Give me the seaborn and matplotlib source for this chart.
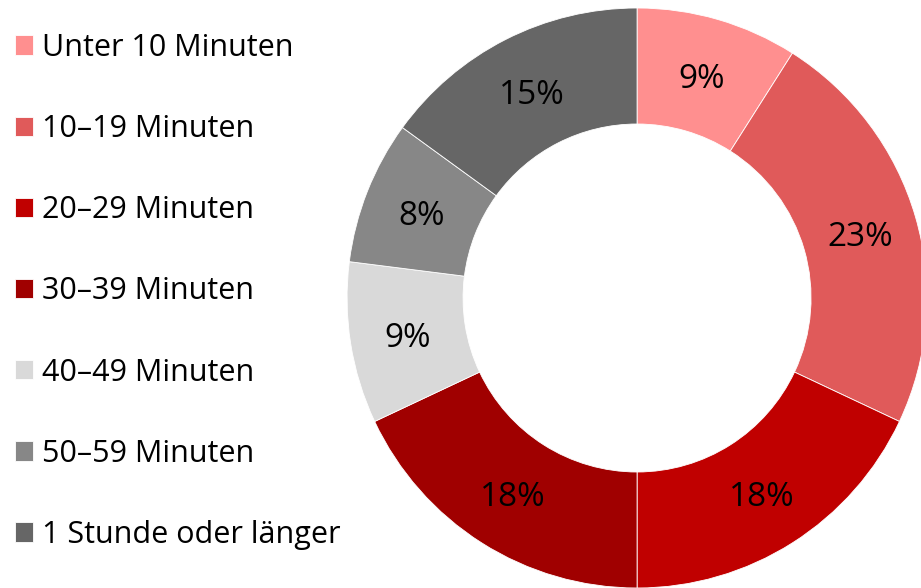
import matplotlib
matplotlib.use("Agg")
import matplotlib.pyplot as plt
import seaborn as sns

# Daten
kategorien = ["Unter 10 Minuten", "10–19 Minuten", "20–29 Minuten", "30–39 Minuten",
              "40–49 Minuten", "50–59 Minuten", "1 Stunde oder länger"]
anteile = [9, 23, 18, 18, 9, 8, 15]
farben = ["#FF8F8F", "#E05A5A", "#C00000", "#A00000", "#D9D9D9", "#878787", "#666666"]

sns.set_theme(style="white")
plt.rcParams["font.family"] = ["Open Sans", "DejaVu Sans"]
plt.rcParams["text.color"] = "black"

fig = plt.figure(figsize=(9.21, 5.88), dpi=100)
ax = fig.add_axes([0.3768, 0.0, 0.6298, 0.9864])

wedges, texte = ax.pie(
    anteile, colors=farben, startangle=90, counterclock=False, radius=1.0,
    labels=[f"{a}%" for a in anteile], labeldistance=0.8,
    wedgeprops=dict(width=0.4, edgecolor="white", linewidth=0.6),
    textprops=dict(fontsize=24, color="black", ha="center", va="center_baseline"),
)
ax.set_xlim(-1, 1)
ax.set_ylim(-1, 1)
ax.set_aspect("equal")
ax.axis("off")

leg = fig.legend(wedges, kategorien, loc="upper left", bbox_to_anchor=(0.003, 0.965),
                 frameon=False, fontsize=22, handlelength=0.6, handleheight=0.6,
                 handletextpad=0.3, labelspacing=1.675, borderaxespad=0)
for t in leg.get_texts():
    t.set_color("black")

fig.savefig("out.png", dpi=100)
